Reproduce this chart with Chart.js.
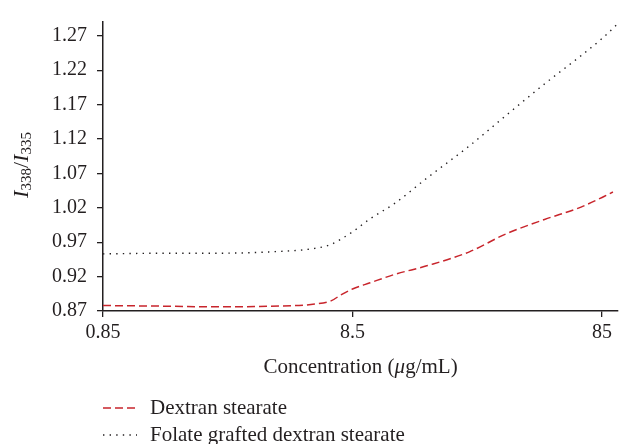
<!DOCTYPE html>
<html>
<head>
<meta charset="utf-8">
<script src="https://cdn.jsdelivr.net/npm/chart.js@4.4.1/dist/chart.umd.min.js"></script>
<style>
  html, body { margin: 0; padding: 0; background: #ffffff; }
  #wrap { width: 621px; height: 444px; position: relative; }
</style>
</head>
<body>
<div id="wrap"><canvas id="chart" width="621" height="444"></canvas></div>
<script>
// Pyrene intensity ratio I338/I335 versus polymer concentration (log scale)
const seriesLabels = ['Dextran stearate', 'Folate grafted dextran stearate'];

const concDextran = [0.85, 1.5, 2.5, 4, 6, 7, 7.6, 8.5, 10, 12.5, 17, 25, 35, 50, 70, 85, 94];
const ratioDextran = [0.878, 0.877, 0.876, 0.877, 0.880, 0.885, 0.893, 0.902, 0.911, 0.923, 0.936, 0.956, 0.982, 1.003, 1.021, 1.035, 1.043];

const concFolate = [0.85, 1.5, 2.5, 4, 6, 7, 7.6, 8.5, 10, 12.5, 17, 25, 35, 50, 70, 85, 98];
const ratioFolate = [0.953, 0.954, 0.954, 0.956, 0.961, 0.967, 0.974, 0.985, 1.004, 1.026, 1.064, 1.110, 1.154, 1.200, 1.241, 1.266, 1.287];

const xTickValues = [0.85, 8.5, 85];
const xTickLabels = ['0.85', '8.5', '85'];
const yTickValues = [0.87, 0.92, 0.97, 1.02, 1.07, 1.12, 1.17, 1.22, 1.27];
const yTickLabels = ['0.87', '0.92', '0.97', '1.02', '1.07', '1.12', '1.17', '1.22', '1.27'];

const SERIF = '"Liberation Serif", "Times New Roman", serif';
const INK = '#231f20';
const RED = '#c8252c';

const toPoints = (xs, ys) => xs.map((x, i) => ({ x: x, y: ys[i] }));

// Axis titles and the legend are painted directly onto the canvas
const annotations = {
  id: 'annotations',
  afterDraw(chart) {
    const ctx = chart.ctx;
    const area = chart.chartArea;
    ctx.save();
    ctx.fillStyle = INK;
    ctx.textBaseline = 'middle';

    // x-axis title with italic mu
    const parts = [
      { t: 'Concentration (', f: '21px ' + SERIF },
      { t: 'μ', f: 'italic 21px ' + SERIF },
      { t: 'g/mL)', f: '21px ' + SERIF }
    ];
    let total = 0;
    parts.forEach(p => { ctx.font = p.f; p.w = ctx.measureText(p.t).width; total += p.w; });
    let x = (area.left + area.right) / 2 - total / 2;
    ctx.textAlign = 'left';
    parts.forEach(p => { ctx.font = p.f; ctx.fillText(p.t, x, 367); x += p.w; });

    // y-axis title I338/I335, rotated
    ctx.save();
    ctx.translate(22, 165);
    ctx.rotate(-Math.PI / 2);
    const yParts = [
      { t: 'I', f: 'italic 22px ' + SERIF, dy: 0 },
      { t: '338', f: '15px ' + SERIF, dy: 5 },
      { t: '/', f: '22px ' + SERIF, dy: 0 },
      { t: 'I', f: 'italic 22px ' + SERIF, dy: 0 },
      { t: '335', f: '15px ' + SERIF, dy: 5 }
    ];
    total = 0;
    yParts.forEach(p => { ctx.font = p.f; p.w = ctx.measureText(p.t).width; total += p.w; });
    x = -total / 2;
    yParts.forEach(p => { ctx.font = p.f; ctx.fillText(p.t, x, p.dy); x += p.w; });
    ctx.restore();

    // legend: one row per dataset
    const rows = [408, 435];
    chart.data.datasets.forEach((ds, i) => {
      const y = rows[i];
      ctx.save();
      ctx.strokeStyle = ds.borderColor;
      ctx.lineWidth = ds.borderWidth;
      ctx.setLineDash(ds.borderDash);
      ctx.beginPath();
      ctx.moveTo(103, y);
      ctx.lineTo(137, y);
      ctx.stroke();
      ctx.restore();
      ctx.font = '21px ' + SERIF;
      ctx.textAlign = 'left';
      ctx.fillText(ds.label, 150, y);
    });
    ctx.restore();
  }
};

new Chart(document.getElementById('chart'), {
  type: 'line',
  data: {
    datasets: [
      {
        label: seriesLabels[0],
        data: toPoints(concDextran, ratioDextran),
        borderColor: RED,
        borderWidth: 1.5,
        borderDash: [8, 4],
        pointRadius: 0,
        fill: false,
        cubicInterpolationMode: 'monotone'
      },
      {
        label: seriesLabels[1],
        data: toPoints(concFolate, ratioFolate),
        borderColor: INK,
        borderWidth: 1.4,
        borderDash: [1.4, 5.2],
        pointRadius: 0,
        fill: false,
        cubicInterpolationMode: 'monotone'
      }
    ]
  },
  options: {
    responsive: false,
    devicePixelRatio: 1,
    animation: false,
    layout: { padding: { top: 22, right: 3, left: 0, bottom: 0 } },
    plugins: { legend: { display: false }, tooltip: { enabled: false } },
    scales: {
      x: {
        type: 'logarithmic',
        min: 0.85,
        max: 98.5,
        afterBuildTicks(scale) { scale.ticks = xTickValues.map(v => ({ value: v })); },
        afterFit(scale) { scale.height = 133; },
        grid: { drawOnChartArea: false, drawTicks: true, tickLength: 6, color: INK, lineWidth: 1.3 },
        border: { color: INK, width: 1.5 },
        ticks: {
          autoSkip: false,
          maxRotation: 0,
          padding: 4,
          color: INK,
          font: { family: SERIF, size: 20 },
          callback(value, index) { return xTickLabels[index]; }
        },
        title: { display: false }
      },
      y: {
        type: 'linear',
        min: 0.87,
        max: 1.29,
        afterBuildTicks(scale) { scale.ticks = yTickValues.map(v => ({ value: v })); },
        afterFit(scale) { scale.width = 103; },
        grid: { drawOnChartArea: false, drawTicks: true, tickLength: 6, color: INK, lineWidth: 1.3 },
        border: { color: INK, width: 1.5 },
        ticks: {
          autoSkip: false,
          padding: 10,
          color: INK,
          font: { family: SERIF, size: 20 },
          callback(value, index) { return yTickLabels[index]; }
        },
        title: { display: false }
      }
    }
  },
  plugins: [annotations]
});
</script>
</body>
</html>
